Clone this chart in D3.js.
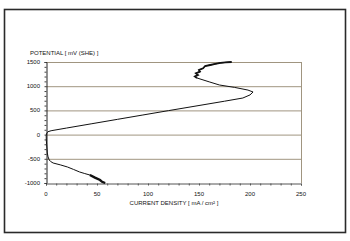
<!DOCTYPE html>
<html lang="en">
<head>
    <meta charset="UTF-8">
    <title>Polarization curve</title>
    <script src="https://cdn.jsdelivr.net/npm/d3@7"></script>
    <style>
        body { margin: 0; background: #fff; }
        text { font-family: "Liberation Sans", Arial, sans-serif; fill: #111; }
    </style>
</head>
<body>
<div id="chart"></div>
<script>
    // current density (mA/cm2) vs potential (mV SHE)
    var current = [58, 55, 53, 48, 43, 38, 33, 27, 21, 14, 7, 4.5, 3.2, 2, 1.3, 1, 0.6, 0.3, 0.2, 0.5, 1, 2, 5,
                   20, 45, 70, 95, 120, 150, 175, 193, 200, 203, 198, 185, 170, 160, 148,
                   146, 149, 147, 151, 150, 154, 156, 161, 166, 171, 176, 182];
    var potential = [-1000, -975, -938, -890, -835, -805, -773, -720, -669, -625, -587, -555, -525, -460, -380, -300, -200, -111, -20, 10, 40, 60, 80,
                     135, 225, 315, 405, 495, 601, 690, 756, 820, 880, 920, 975, 1025, 1090, 1170,
                     1200, 1230, 1265, 1300, 1335, 1370, 1417, 1438, 1460, 1480, 1492, 1500];
    var xTicks = [0, 50, 100, 150, 200, 250];
    var yTicks = [-1000, -500, 0, 500, 1000, 1500];

    var svg = d3.select('#chart')
            .append('svg')
            .attr('width', 350)
            .attr('height', 241);

    // outer frame of the scanned page
    svg.append('rect')
            .attr('x', 4.5).attr('y', 9.5)
            .attr('width', 341).attr('height', 223)
            .attr('fill', 'none')
            .attr('stroke', '#2a2a2a')
            .attr('stroke-width', 1.6);

    var x = d3.scaleLinear().domain([0, 250]).range([46, 301]);
    var y = d3.scaleLinear().domain([-1000, 1500]).range([183, 62]);

    // gridlines
    svg.append('g').selectAll('line')
            .data(yTicks.filter(function(d){ return d > -1000; }))
            .enter()
            .append('line')
            .attr('x1', x(0)).attr('x2', x(250))
            .attr('y1', function(d){ return y(d) + 0.5; })
            .attr('y2', function(d){ return y(d) + 0.5; })
            .attr('stroke', '#a09580')
            .attr('stroke-width', 1);

    // right border
    svg.append('line')
            .attr('x1', x(250) + 0.5).attr('x2', x(250) + 0.5)
            .attr('y1', y(1500)).attr('y2', y(-1000))
            .attr('stroke', '#a09580');

    // x axis
    var xAxis = svg.append('g')
            .attr('transform', 'translate(0,' + (y(-1000) + 0.5) + ')')
            .call(d3.axisBottom(x).tickValues(d3.range(0, 251, 10)).tickSize(2).tickFormat(''));
    xAxis.select('.domain').attr('stroke', '#555');
    xAxis.selectAll('line').attr('stroke', '#555');
    svg.append('g').selectAll('text')
            .data(xTicks)
            .enter()
            .append('text')
            .attr('x', function(d){ return x(d); })
            .attr('y', 196)
            .attr('text-anchor', 'middle')
            .style('font-size', '6px')
            .text(function(d){ return d; });

    // y axis
    var yAxis = svg.append('g')
            .attr('transform', 'translate(' + (x(0) + 0.5) + ',0)')
            .call(d3.axisLeft(y).tickValues(d3.range(-1000, 1501, 100)).tickSize(2).tickFormat(''));
    yAxis.select('.domain').attr('stroke', '#222');
    yAxis.selectAll('line').attr('stroke', '#444');
    svg.append('g').selectAll('text')
            .data(yTicks)
            .enter()
            .append('text')
            .attr('x', 40)
            .attr('y', function(d){ return y(d) + 2; })
            .attr('text-anchor', 'end')
            .style('font-size', '6px')
            .text(function(d){ return d; });

    // axis titles
    svg.append('text')
            .attr('x', 30).attr('y', 55)
            .style('font-size', '6px')
            .text('POTENTIAL [ mV (SHE) ]');
    svg.append('text')
            .attr('x', 174).attr('y', 205)
            .attr('text-anchor', 'middle')
            .style('font-size', '6px')
            .text('CURRENT DENSITY [ mA / cm² ]');

    // curve
    var pts = current.map(function(c, i){ return [c, potential[i]]; });
    var line = d3.line()
            .x(function(d){ return x(d[0]); })
            .y(function(d){ return y(d[1]); });

    svg.append('path')
            .datum(pts)
            .attr('d', line)
            .attr('fill', 'none')
            .attr('stroke', '#111')
            .attr('stroke-width', 1);

    // thicker noisy segments at the ends of the scan
    svg.append('path')
            .datum(pts.slice(0, 5))
            .attr('d', line)
            .attr('fill', 'none')
            .attr('stroke', '#111')
            .attr('stroke-width', 2.4);
    svg.append('path')
            .datum(pts.slice(37))
            .attr('d', line)
            .attr('fill', 'none')
            .attr('stroke', '#111')
            .attr('stroke-width', 1.8);
</script>
</body>
</html>
